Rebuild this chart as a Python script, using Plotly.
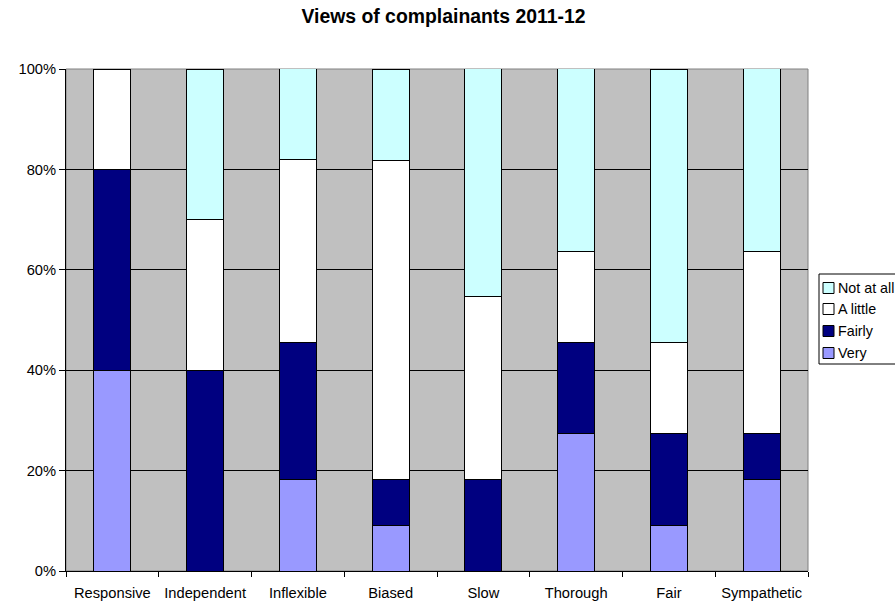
import plotly.graph_objects as go

categories = ["Responsive", "Independent", "Inflexible", "Biased", "Slow", "Thorough", "Fair", "Sympathetic"]
very = [40.0, 0.0, 18.2, 9.1, 0.0, 27.3, 9.1, 18.2]
fairly = [40.0, 40.0, 27.3, 9.1, 18.2, 18.2, 18.2, 9.1]
a_little = [20.0, 30.0, 36.4, 63.6, 36.4, 18.2, 18.2, 36.4]
not_at_all = [0.0, 30.0, 18.2, 18.2, 45.5, 36.4, 54.5, 36.4]
tick_vals = [0, 20, 40, 60, 80, 100]
tick_text = ["0%", "20%", "40%", "60%", "80%", "100%"]

series = [
    ("Very", very, "#9999FF"),
    ("Fairly", fairly, "#000080"),
    ("A little", a_little, "#FFFFFF"),
    ("Not at all", not_at_all, "#CCFFFF"),
]

W, H = 895, 602
L, R, T, B = 66, 808, 69, 571
pw, ph = R - L, B - T


def px(x):
    return (x - L) / pw


def py(y):
    return (B - y) / ph


FONT = "Liberation Sans, Arial, sans-serif"

fig = go.Figure()
for name, vals, color in series:
    fig.add_trace(go.Bar(
        x=categories, y=vals, name=name, showlegend=False,
        marker=dict(color=color, line=dict(color="#000000", width=1)),
    ))

shapes = []
annotations = []
# plot-area border (grey, like the original)
shapes.append(dict(type="rect", xref="paper", yref="paper", x0=0, x1=1, y0=0, y1=1,
                   line=dict(color="#808080", width=1), fillcolor="rgba(0,0,0,0)", layer="below"))
# manual legend (reversed order, as in the original)
shapes.append(dict(type="rect", xref="paper", yref="paper", x0=px(819), x1=px(910),
                   y0=py(364), y1=py(274), line=dict(color="#000000", width=1),
                   fillcolor="#FFFFFF", layer="above"))
row_y = [288, 309, 331, 353]
for (name, _, color), yc in zip(reversed(series), row_y):
    shapes.append(dict(type="rect", xref="paper", yref="paper", x0=px(823), x1=px(834),
                       y0=py(yc + 5.5), y1=py(yc - 5.5),
                       line=dict(color="#000000", width=1), fillcolor=color, layer="above"))
    annotations.append(dict(text=name, xref="paper", yref="paper", x=px(836), y=py(yc),
                            xanchor="left", yanchor="middle", showarrow=False,
                            font=dict(family=FONT, size=14.3, color="#000000")))

fig.update_layout(
    barmode="stack",
    bargap=0.6,
    width=W, height=H,
    margin=dict(l=L, r=W - R, t=T, b=H - B, autoexpand=False),
    paper_bgcolor="#FFFFFF",
    plot_bgcolor="#C0C0C0",
    font=dict(family=FONT, size=14.7, color="#000000"),
    showlegend=False,
    title=dict(text="<b>Views of complainants 2011-12</b>", xref="container", x=443.5 / W,
               xanchor="center", yref="container", y=1 - 16 / H, yanchor="middle",
               font=dict(size=19.4)),
    shapes=shapes,
    annotations=annotations,
    xaxis=dict(type="category", tickson="boundaries", ticks="outside", ticklen=5,
               tickcolor="#000000", showline=True, linecolor="#000000", linewidth=1,
               showgrid=False, ticklabelstandoff=8, automargin=False),
    yaxis=dict(range=[0, 100], tickvals=tick_vals, ticktext=tick_text,
               ticks="outside", ticklen=6, tickcolor="#000000",
               showline=True, linecolor="#000000", linewidth=1,
               showgrid=True, gridcolor="#000000", gridwidth=1, zeroline=False,
               automargin=False),
)

fig.write_html("out.html")
